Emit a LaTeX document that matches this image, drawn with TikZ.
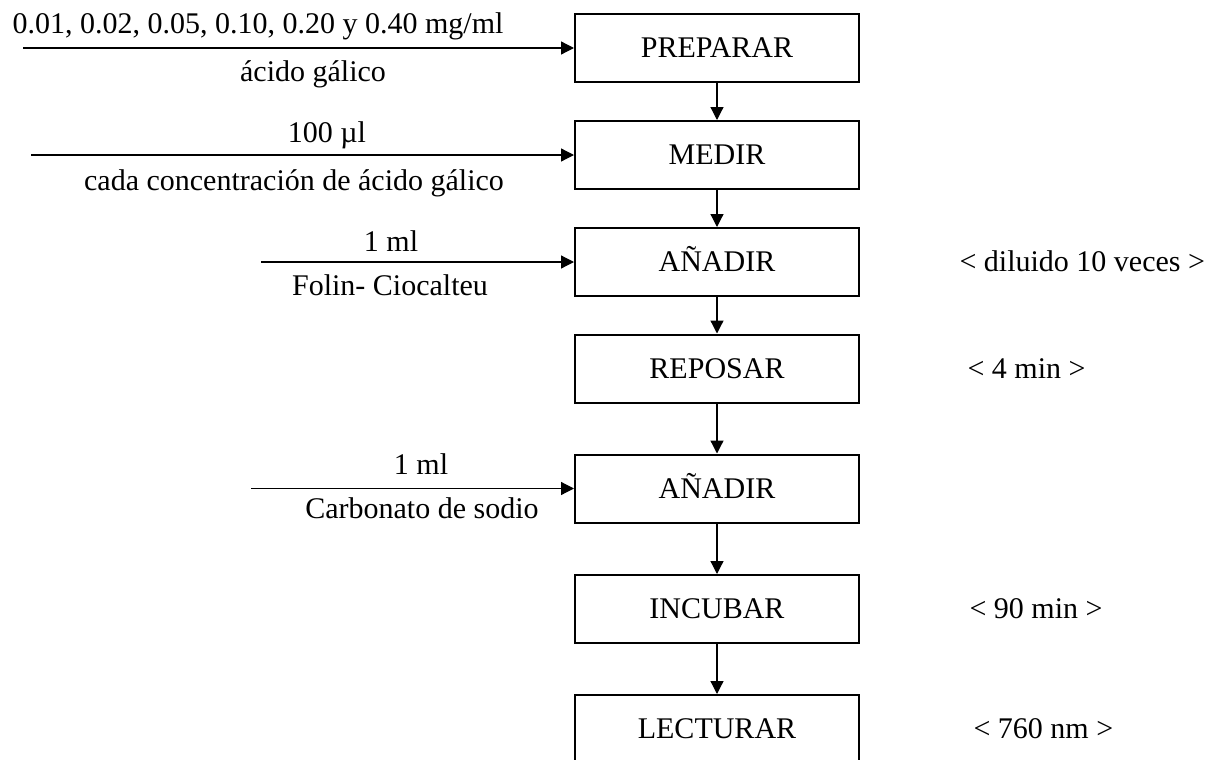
\documentclass[tikz,border=0pt]{standalone}
\usepackage{fontspec}
\setmainfont{Liberation Serif}
\usetikzlibrary{arrows.meta,positioning}

\begin{document}
\begin{tikzpicture}[x=0.4pt,y=-0.4pt,
    font=\fontsize{12}{14.4}\selectfont,
    procbox/.style={draw, line width=0.8pt, minimum width=113.6pt, minimum height=27.2pt,
        text height=0.78em, text depth=0pt, inner sep=0pt},
    feed/.style={-{Triangle[length=5.2pt,width=5.2pt]}, line width=0.5pt},
    note/.style={anchor=west, text height=0.78em, text depth=0pt, inner sep=0pt},
    lbl/.style={anchor=base, inner sep=0pt}]
    \useasboundingbox (0,0) rectangle (1208,760);

    % process steps
    \foreach \n/\y/\t in {prep/48/PREPARAR,medir/155/MEDIR,anad/262/AÑADIR,repos/368.5/REPOSAR,anadb/488.5/AÑADIR,incub/609/INCUBAR,lect/729/LECTURAR}
        \node[procbox] (\n) at (717,\y) {\t};

    \foreach \a/\b in {prep/medir,medir/anad,anad/repos,repos/anadb,anadb/incub,incub/lect}
        \draw[feed] (\a) -- (\b);

    % inputs
    \coordinate (in1) at (23,48);
    \coordinate (in2) at (31,155);
    \coordinate (in3) at (261,262);
    \coordinate (in4) at (251,488.5);
    \draw[feed] (in1) -- (prep.west);
    \draw[feed] (in2) -- (medir.west);
    \draw[feed] (in3) -- (anad.west);
    \draw[feed] (in4) -- (anadb.west);

    \node[lbl] (q1) at (258,34) {0.01, 0.02, 0.05, 0.10, 0.20 y 0.40 mg/ml};
    \node[lbl] (s1) at (313,81) {ácido gálico};
    \node[lbl] (q2) at (327,142) {100 µl};
    \node[lbl] (s2) at (294,190) {cada concentración de ácido gálico};
    \node[lbl] (q3) at (391,251) {1 ml};
    \node[lbl] (s3) at (390,295) {Folin- Ciocalteu};
    \node[lbl] (q4) at (421,474) {1 ml};
    \node[lbl] (s4) at (422,518) {Carbonato de sodio};

    % conditions
    \node[note] (r3) at (959,262) {< diluido 10 veces >};
    \node[note] (r4) at (967,368.5) {< 4 min >};
    \node[note] (r6) at (969,609) {< 90 min >};
    \node[note] (r7) at (973,729) {< 760 nm >};
\end{tikzpicture}
\end{document}
